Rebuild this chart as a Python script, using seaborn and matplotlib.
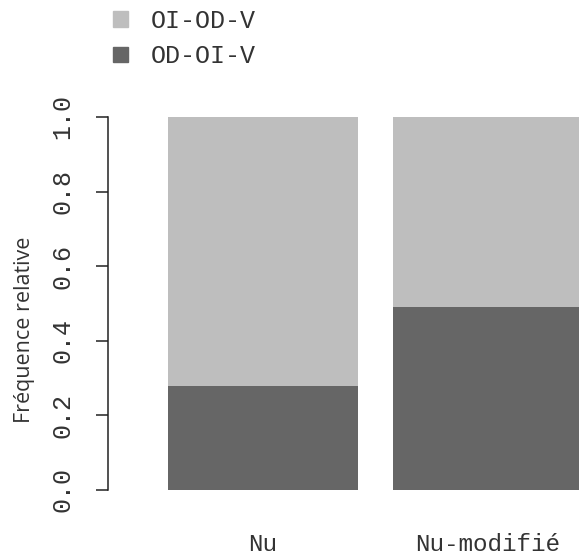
import matplotlib
matplotlib.use("Agg")
import matplotlib.pyplot as plt
import matplotlib.patches as mpatches
import pandas as pd
import seaborn as sns

categories = ["Nu", "Nu-modifié"]
od_oi_v = [0.28, 0.49]
oi_od_v = [0.72, 0.51]
series_labels = ["OI-OD-V", "OD-OI-V"]
yticks = [0.0, 0.2, 0.4, 0.6, 0.8, 1.0]
ytick_labels = ["0.0", "0.2", "0.4", "0.6", "0.8", "1.0"]

light = "#bebebe"
dark = "#666666"
mono = "Liberation Mono"

sns.set_theme(style="white")
plt.rcParams["font.family"] = ["DejaVu Sans"]

df = pd.DataFrame({"cat": categories, "bottom": od_oi_v, "top": oi_od_v})
df["total"] = df["bottom"] + df["top"]

W, H = 579, 559
fig = plt.figure(figsize=(W / 100, H / 100), dpi=100)
# axes placed in pixel terms: left spine at x=108, y=0 at 490, y=1 at 117
ax = fig.add_axes([108 / W, (H - 490) / H, (W - 108) / W, 373 / H])

sns.barplot(data=df, x="cat", y="total", color=light, saturation=1,
            width=0.844, linewidth=0, ax=ax)
sns.barplot(data=df, x="cat", y="bottom", color=dark, saturation=1,
            width=0.844, linewidth=0, ax=ax)

ax.set_xlim(-0.689, 1.404)
ax.set_ylim(0, 1)
ax.set_xlabel("")
ax.set_ylabel("")

sns.despine(ax=ax, top=True, right=True, bottom=True)
ax.spines["left"].set_bounds(0, 1)
ax.spines["left"].set_color("#222222")
ax.spines["left"].set_linewidth(1.1)

ax.set_yticks(yticks)
ax.set_yticklabels(ytick_labels, rotation=90, va="center",
                   fontfamily=mono, fontsize=18, color="#333333")
ax.tick_params(axis="y", left=True, length=9, width=1.1, color="#222222", pad=15)
ax.tick_params(axis="x", bottom=False, length=0, pad=31)
for lab in ax.get_xticklabels():
    lab.set_fontfamily(mono)
    lab.set_fontsize(17.5)
    lab.set_color("#333333")

fig.text(25 / W, 1 - 330 / H, "Fréquence relative", rotation=90,
         ha="center", va="center", fontsize=15.5, color="#333333",
         fontfamily="Open Sans")

handles = [mpatches.Patch(color=light, label=series_labels[0]),
           mpatches.Patch(color=dark, label=series_labels[1])]
fig.legend(handles=handles, loc="upper left", bbox_to_anchor=(113 / W, 1 - 9 / H),
           frameon=False, prop={"family": mono, "size": 18},
           borderpad=0, borderaxespad=0,
           handlelength=0.6, handleheight=0.6, handletextpad=0.9,
           labelspacing=0.45, labelcolor="#333333")

fig.savefig("out.png", dpi=100)
